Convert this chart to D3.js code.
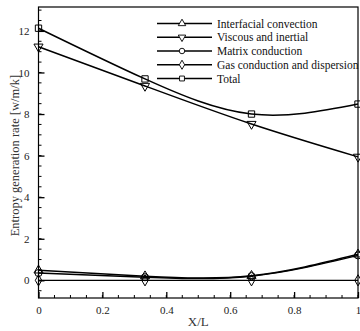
<!DOCTYPE html>
<html>
<head>
<meta charset="utf-8">
<script src="https://cdn.jsdelivr.net/npm/d3@7"></script>
<style>
  body { margin: 0; background: #fff; }
  svg { display: block; }
  svg text { font-family: "Liberation Serif", "Times New Roman", "DejaVu Serif", serif; }
</style>
</head>
<body>
<svg width="360" height="331"></svg>
<script>
// data
let xPositions = [0, 1 / 3, 2 / 3, 1];
let seriesNames = ['Interfacial convection', 'Viscous and inertial', 'Matrix conduction', 'Gas conduction and dispersion', 'Total'];
let interfacial = [0.48, 0.2, 0.22, 1.25];
let viscous = [11.24, 9.35, 7.52, 5.94];
let matrix = [0.35, 0.15, 0.2, 1.2];
let gasCond = [0, 0, 0, 0];
let total = [12.13, 9.69, 8.0, 8.48];
let xTicks = [0, 0.2, 0.4, 0.6, 0.8, 1];
let yTicks = [0, 2, 4, 6, 8, 10, 12];

let svg = d3.select('svg');
let margin = {top: 7, right: 2, bottom: 33, left: 38.5};
let width = +svg.attr('width');
let height = +svg.attr('height');
let innerWidth = width - margin.left - margin.right;
let innerHeight = height - margin.top - margin.bottom;

let xScale = d3.scaleLinear().domain([0, 1]).range([0, innerWidth]);
let yScale = d3.scaleLinear().domain([-0.85, 13.15]).range([innerHeight, 0]);

let g = svg.append('g').attr('transform', `translate(${margin.left},${margin.top})`);

// frame
g.append('rect')
    .attr('width', innerWidth)
    .attr('height', innerHeight)
    .attr('fill', 'none')
    .attr('stroke', '#000')
    .attr('stroke-width', 1.2);

// x axis, ticks inside
let xMinor = d3.range(0, 1.0001, 0.05);
g.selectAll('.xminor').data(xMinor).enter().append('line')
    .attr('x1', d => xScale(d)).attr('x2', d => xScale(d))
    .attr('y1', innerHeight).attr('y2', innerHeight - 3)
    .attr('stroke', '#000');
let xAxis = g.append('g')
    .attr('transform', `translate(0,${innerHeight})`)
    .call(d3.axisBottom(xScale).tickValues(xTicks).tickSize(-6).tickPadding(8).tickFormat(d3.format('')));
xAxis.select('.domain').remove();
xAxis.attr('font-family', null);
xAxis.selectAll('line').attr('stroke-width', 1.3);
xAxis.selectAll('text').attr('font-size', 11).attr('fill', '#222');

// y axis, ticks inside
let yMinor = d3.range(-0.5, 13.01, 0.5);
g.selectAll('.yminor').data(yMinor).enter().append('line')
    .attr('x1', 0).attr('x2', 3)
    .attr('y1', d => yScale(d)).attr('y2', d => yScale(d))
    .attr('stroke', '#000');
let yAxis = g.append('g')
    .call(d3.axisLeft(yScale).tickValues(yTicks).tickSize(-6).tickPadding(9));
yAxis.select('.domain').remove();
yAxis.attr('font-family', null);
yAxis.selectAll('line').attr('stroke-width', 1.3);
yAxis.selectAll('text').attr('font-size', 11).attr('fill', '#222');

// axis titles
g.append('text')
    .attr('x', xScale(0.5)).attr('y', innerHeight + 28)
    .attr('text-anchor', 'middle')
    .attr('font-size', 13).attr('fill', '#333')
    .text('X/L');
g.append('text')
    .attr('transform', `translate(${15 - margin.left},${yScale(6.0)}) rotate(-90)`)
    .attr('text-anchor', 'middle')
    .attr('dy', '0.35em')
    .attr('font-size', 12.5).attr('fill', '#333')
    .text('Entropy generation rate [w/m/k]');

// series
let allSeries = [interfacial, viscous, matrix, gasCond, total];
let symbols = [d3.symbolTriangle, d3.symbolTriangle, d3.symbolCircle, d3.symbolDiamond, d3.symbolSquare];
let rotations = [0, 180, 0, 0, 0];
let symbolSizes = [36, 36, 40, 36, 40];

let line = d3.line()
    .x((d, i) => xScale(xPositions[i]))
    .y(d => yScale(d))
    .curve(d3.curveNatural);

allSeries.forEach((vals, s) => {
    g.append('path')
        .attr('d', line(vals))
        .attr('fill', 'none')
        .attr('stroke', '#000')
        .attr('stroke-width', s === 3 ? 1.2 : 1.5);
    g.selectAll('.m' + s).data(vals).enter().append('path')
        .attr('d', d3.symbol().type(symbols[s]).size(symbolSizes[s]))
        .attr('transform', (d, i) => `translate(${xScale(xPositions[i])},${yScale(d)}) rotate(${rotations[s]})`)
        .attr('fill', 'none')
        .attr('stroke', '#000')
        .attr('stroke-width', 1);
});

// legend
let legend = svg.append('g').attr('transform', 'translate(157,23.5)');
seriesNames.forEach((name, s) => {
    let row = legend.append('g').attr('transform', `translate(0,${s * 13.75})`);
    row.append('line').attr('x1', 0).attr('x2', 55).attr('stroke', '#000').attr('stroke-width', 1.3);
    row.append('path')
        .attr('d', d3.symbol().type(symbols[s]).size(24))
        .attr('transform', `translate(25,0) rotate(${rotations[s]})`)
        .attr('fill', '#fff')
        .attr('stroke', '#000')
        .attr('stroke-width', 0.9);
    row.append('text')
        .attr('x', 60).attr('dy', '0.35em')
        .attr('font-size', 11.5).attr('fill', '#111')
        .text(name);
});
</script>
</body>
</html>
